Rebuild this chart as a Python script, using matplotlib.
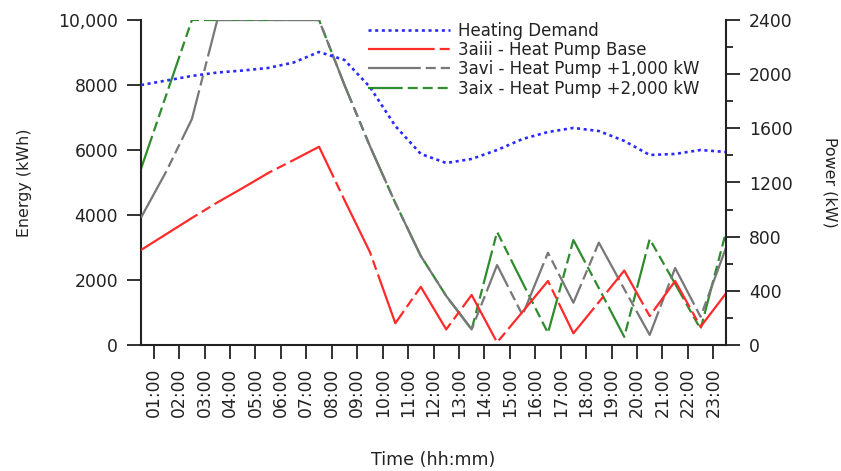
import matplotlib
matplotlib.use("Agg")
import matplotlib.pyplot as plt
from matplotlib.ticker import MultipleLocator

plt.rcParams["font.family"] = ["DejaVu Sans"]
plt.rcParams["lines.scale_dashes"] = False

# Hourly values, plotted at the middle of each hour
time_h = [0.5, 1.5, 2.5, 3.5, 4.5, 5.5, 6.5, 7.5, 8.5, 9.5, 10.5, 11.5,
          12.5, 13.5, 14.5, 15.5, 16.5, 17.5, 18.5, 19.5, 20.5, 21.5, 22.5, 23.5]

# Heating demand (kW, right axis)
heating_demand = [1920, 1953, 1987, 2012, 2027, 2046, 2086, 2164, 2105, 1905, 1617, 1411,
                  1344, 1374, 1440, 1521, 1573, 1603, 1580, 1507, 1403, 1411, 1440, 1425]

# Stored energy (kWh, left axis)
hp_base = [2923, 3415, 3908, 4385, 4831, 5292, 5692, 6100, 4460, 2860, 670, 1790,
           480, 1540, 80, 1020, 1970, 360, 1320, 2290, 890, 1970, 560, 1590]
hp_plus_1000 = [3920, 5350, 6950, 10000, 10000, 10000, 10000, 10000, 8000, 6120, 4370, 2740,
                1510, 480, 2460, 920, 2840, 1300, 3150, 1720, 310, 2370, 870, 2990]
hp_plus_2000 = [5420, 7710, 10000, 10000, 10000, 10000, 10000, 10000, 8000, 6120, 4370, 2740,
                1510, 480, 3480, 1920, 370, 3230, 1750, 250, 3260, 1880, 490, 3480]

tick_hours = list(range(1, 24))
tick_labels = [f"{h:02d}:00" for h in tick_hours]
energy_ticks = [0, 2000, 4000, 6000, 8000, 10000]
energy_labels = ["0", "2000", "4000", "6000", "8000", "10,000"]
power_ticks = [0, 400, 800, 1200, 1600, 2000, 2400]

labels = ["Heating Demand", "3aiii - Heat Pump Base",
          "3avi - Heat Pump +1,000 kW", "3aix - Heat Pump +2,000 kW"]

ink = "#222222"
W, H = 841, 471
fig = plt.figure(figsize=(W / 100, H / 100), dpi=100)
ax = fig.add_axes([141 / W, 126 / H, 585 / W, 325 / H])
ax2 = ax.twinx()

green_line, = ax.plot(time_h, hp_plus_2000, color="#2e8b2e", lw=1.6,
                      dashes=(25, 3.6, 7.2, 3.6, 7.2, 3.6, 7.2, 3.6), zorder=2)
gray_line, = ax.plot(time_h, hp_plus_1000, color="#777777", lw=1.6,
                     dashes=(38, 3.6, 7.2, 3.6, 7.2, 3.6), zorder=3)
red_line, = ax.plot(time_h, hp_base, color="#ff2a2a", lw=1.6,
                    dashes=(48, 3.6, 7.2, 3.6), zorder=4)
blue_line, = ax2.plot(time_h, heating_demand, color="#2a2aff", lw=1.9,
                      dashes=(2.2, 2.6))

ax.set_xlim(0.5, 23.5)
ax.set_ylim(0, 10000)
ax2.set_ylim(0, 2400)

for s in ("top", "right"):
    ax.spines[s].set_visible(False)
for s in ("top", "left", "bottom"):
    ax2.spines[s].set_visible(False)
for sp in (ax.spines["left"], ax.spines["bottom"], ax2.spines["right"]):
    sp.set_linewidth(1.5)
    sp.set_color(ink)

ax.set_xticks(tick_hours, tick_labels, rotation=90)
ax.set_yticks(energy_ticks, energy_labels)
ax2.set_yticks(power_ticks)
ax2.yaxis.set_minor_locator(MultipleLocator(200))

for a in (ax, ax2):
    a.tick_params(which="major", direction="out", length=10, width=1.3,
                  pad=6.5, labelsize=12.4, color=ink, labelcolor=ink)
ax2.tick_params(which="minor", direction="out", length=5, width=1.3, color=ink)

ax.set_ylabel("Energy (kWh)", fontsize=11.4, color=ink, va="center")
ax.yaxis.set_label_coords((25 - 141) / 585, 0.5)
ax2.set_ylabel("Power (kW)", fontsize=11.4, color=ink, rotation=-90, va="center")
ax2.yaxis.set_label_coords((830 - 141) / 585, 0.5)
ax.set_xlabel("Time (hh:mm)", fontsize=12.6, color=ink, va="center")
ax.xaxis.set_label_coords((433 - 141) / 585, (345 - 460) / 325)

leg = ax2.legend([blue_line, red_line, gray_line, green_line], labels,
                 loc="upper left", bbox_to_anchor=(368 / W, 1 - 21.5 / H),
                 bbox_transform=fig.transFigure, frameon=False, borderpad=0,
                 borderaxespad=0, handlelength=4.9, handletextpad=0.48,
                 labelspacing=0.08, fontsize=12)
for t in leg.get_texts():
    t.set_color(ink)

fig.savefig("out.png", dpi=100)
